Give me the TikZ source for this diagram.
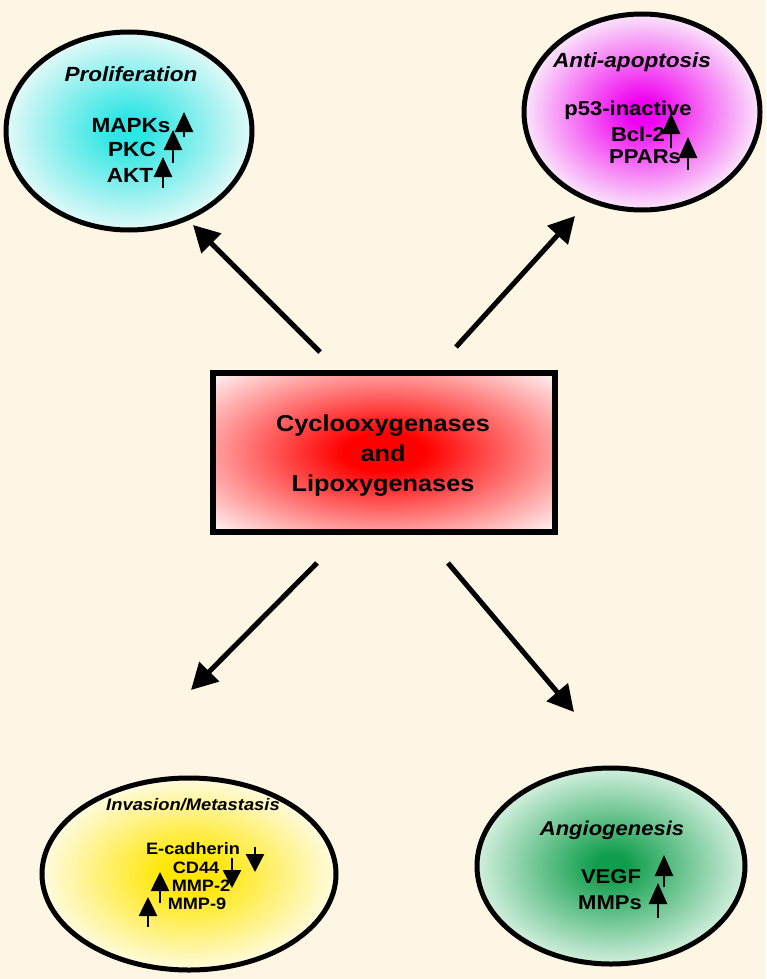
\documentclass[tikz,border=0pt]{standalone}
\usepackage{fontspec}
\setmainfont[FakeStretch=1.1]{Liberation Sans}
\usetikzlibrary{shapes.geometric,arrows.meta}
\definecolor{bg}{HTML}{FEF6E4}
\definecolor{cyC}{HTML}{30E6E4}
\definecolor{cyE}{HTML}{E2F9F8}
\definecolor{mgC}{HTML}{F000F0}
\definecolor{mgE}{HTML}{FAE6FA}
\definecolor{yeC}{HTML}{FFE600}
\definecolor{yeE}{HTML}{FFFBE0}
\definecolor{grC}{HTML}{109E4C}
\definecolor{grE}{HTML}{D2EFDD}
\definecolor{rdC}{HTML}{FF0000}
\definecolor{rdE}{HTML}{FFF4F4}
\pgfdeclareradialshading{cysh}{\pgfpoint{0bp}{0bp}}{color(0bp)=(cyC); color(4bp)=(cyC); color(25bp)=(cyE); color(50bp)=(cyE)}
\pgfdeclareradialshading{mgsh}{\pgfpoint{0bp}{0bp}}{color(0bp)=(mgC); color(3bp)=(mgC); color(25bp)=(mgE); color(50bp)=(mgE)}
\pgfdeclareradialshading{yesh}{\pgfpoint{0bp}{0bp}}{color(0bp)=(yeC); color(4bp)=(yeC); color(25bp)=(yeE); color(50bp)=(yeE)}
\pgfdeclareradialshading{grsh}{\pgfpoint{0bp}{0bp}}{color(0bp)=(grC); color(3bp)=(grC); color(25bp)=(grE); color(50bp)=(grE)}
\pgfdeclareradialshading{rdsh}{\pgfpoint{0bp}{0bp}}{color(0bp)=(rdC); color(6bp)=(rdC); color(35bp)=(rdE); color(50bp)=(rdE)}
\tikzset{
  oval/.style={ellipse, draw=black, line width=5pt, inner sep=0pt},
  title/.style={font=\fontsize{#1}{#1}\selectfont\bfseries\itshape, inner sep=0pt, anchor=base},
  item/.style={font=\fontsize{#1}{#1}\selectfont\bfseries, inner sep=0pt, anchor=base},
  bigarrow/.style={line width=5pt, -{Triangle[length=26pt,width=27pt]}},
  smallarrow/.style={line width=2.6pt, -{Triangle[length=#1,width=18pt]}},
  smallarrow/.default=21pt
}
\begin{document}
\begin{tikzpicture}[x=1pt,y=-1pt]
\fill[bg] (0,0) rectangle (766,979);
\useasboundingbox (0,0) rectangle (766,979);

% ellipses
\node[oval, shading=cysh, minimum width=246pt, minimum height=198pt] (prol) at (129,131) {};
\node[oval, shading=mgsh, minimum width=236pt, minimum height=196pt] (anti) at (642,112) {};
\node[oval, shading=yesh, minimum width=294pt, minimum height=192pt] (inv) at (189,874) {};
\node[oval, shading=grsh, minimum width=268pt, minimum height=196pt] (ang) at (611,866) {};

% central box
\node[draw=black, line width=6pt, shading=rdsh, minimum width=342pt, minimum height=159pt, inner sep=0pt] (cox) at (384,452) {};
\node[item=23] (c1) at (383,431) {Cyclooxygenases};
\node[item=23] (c2) at (383,461) {and};
\node[item=23] (c3) at (383,491) {Lipoxygenases};

% Proliferation
\node[title=20.5] (t1) at (131,82) {Proliferation};
\node[item=20.5] (p1) at (131,132) {MAPKs};
\node[item=20.5] (p2) at (132,157) {PKC};
\node[item=20.5] (p3) at (130,182) {AKT};
\draw[smallarrow=20pt] (184,137) -- (184,112);
\draw[smallarrow=20pt] (173,163) -- (173,130);
\draw[smallarrow=20pt] (163,188) -- (163,157);

% Anti-apoptosis
\node[title=20.5] (t2) at (632,68) {Anti-apoptosis};
\node[item=20] (a1) at (628,116) {p53-inactive};
\node[item=20] (a2) at (638,142) {Bcl-2};
\node[item=20] (a3) at (645,163) {PPARs};
\draw[smallarrow] (671,148) -- (671,113);
\draw[smallarrow] (688,170) -- (688,137);

% Invasion/Metastasis
\node[title=16.7] (t3) at (193,810) {Invasion/Metastasis};
\node[item=16.5] (i1) at (193,854) {E-cadherin};
\node[item=16.5] (i2) at (196,873) {CD44};
\node[item=16.5] (i3) at (201,891) {MMP-2};
\node[item=16.5] (i4) at (197,909) {MMP-9};
\draw[smallarrow=18pt] (255,847) -- (255,872);
\draw[smallarrow=18pt] (232,858) -- (232,888);
\draw[smallarrow=19pt] (160,903) -- (160,872);
\draw[smallarrow=19pt] (148,927) -- (148,897);

% Angiogenesis
\node[title=20] (t4) at (612,835) {Angiogenesis};
\node[item=20] (g1) at (611,883) {VEGF};
\node[item=20] (g2) at (610,909) {MMPs};
\draw[smallarrow] (664,887) -- (664,855);
\draw[smallarrow] (658,918) -- (658,883);

% main arrows
\coordinate (s1) at (320,352); \coordinate (e1) at (193,225);
\coordinate (s2) at (456,347); \coordinate (e2) at (575,216);
\coordinate (s3) at (317,563); \coordinate (e3) at (191,690);
\coordinate (s4) at (448,563); \coordinate (e4) at (574,712);
\draw[bigarrow] (s1) -- (e1);
\draw[bigarrow] (s2) -- (e2);
\draw[bigarrow] (s3) -- (e3);
\draw[bigarrow] (s4) -- (e4);
\end{tikzpicture}
\end{document}
